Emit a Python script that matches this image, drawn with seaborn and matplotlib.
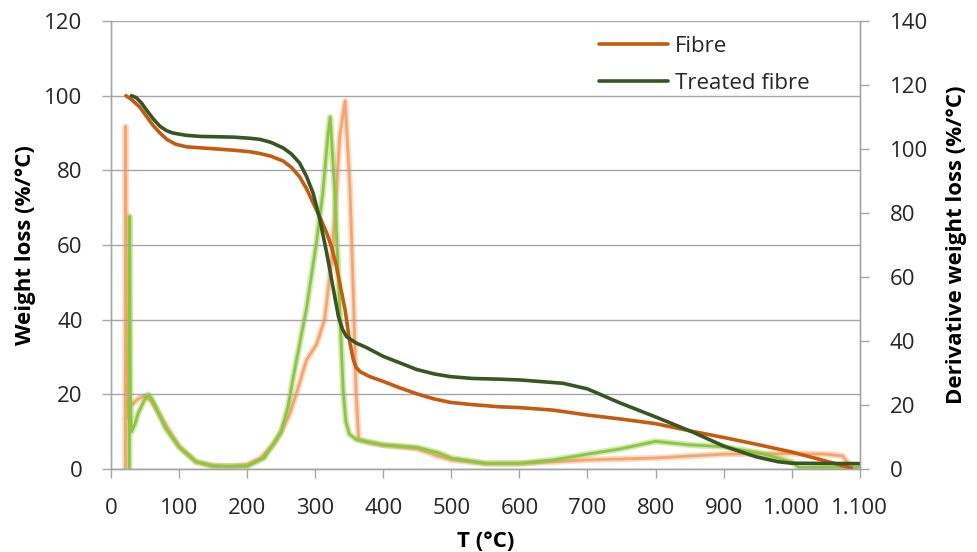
import matplotlib
matplotlib.use('Agg')
import matplotlib.pyplot as plt
from matplotlib.ticker import FuncFormatter
import seaborn as sns

# Weight loss curves (left axis)
fibre_T = [22, 30, 42, 52, 62, 72, 82, 95, 111, 150, 180, 204, 219, 235, 253, 265, 277, 287, 297,
           307, 317, 324, 331, 337, 344, 351, 356, 360, 366, 380, 400, 424, 449, 475, 498, 530,
           571, 600, 650, 700, 750, 800, 855, 900, 950, 1000, 1056, 1088]
fibre_w = [100, 99, 97, 94.5, 92, 90, 88.3, 87, 86.3, 85.8, 85.4, 85, 84.5, 83.8, 82.5, 80.8, 78.3,
           75.2, 71.3, 67.4, 63.2, 59.5, 54.5, 49, 42.6, 33.8, 29.3, 27.3, 26.1, 24.8, 23.5, 21.8,
           20.2, 18.8, 17.9, 17.3, 16.7, 16.5, 15.8, 14.5, 13.4, 12.2, 10.1, 8.5, 6.6, 4.6, 1.9, 0.3]

treated_T = [30, 37, 45, 52, 62, 72, 82, 91, 110, 131, 180, 204, 219, 235, 253, 265, 277, 287, 297,
             307, 317, 326, 334, 340, 346, 360, 375, 400, 424, 449, 475, 498, 530, 571, 600, 664,
             700, 747, 800, 855, 900, 948, 980, 1000, 1100]
treated_w = [100, 99.5, 98, 96.2, 93.8, 91.8, 90.6, 90, 89.4, 89.1, 88.9, 88.6, 88.3, 87.5, 86, 84.4,
             82, 78.5, 73.9, 66.7, 57.8, 48.9, 41, 37.5, 35.5, 33.8, 32.6, 30.2, 28.5, 26.7, 25.5,
             24.8, 24.3, 24.1, 23.9, 23, 21.5, 17.8, 14, 9.9, 6.2, 3.3, 2, 1.6, 1.5]

# Derivative curves (right axis)
fibre_dT = [21, 21.5, 22.5, 23.5, 25, 30, 40, 50, 60, 70, 80, 100, 125, 150, 175, 200, 220, 240, 250,
            262, 273, 287, 302, 314, 324, 331, 336, 344, 351, 356, 360, 364, 380, 400, 450, 480, 500,
            550, 600, 650, 700, 800, 900, 1000, 1050, 1075, 1085, 1090]
fibre_d = [0, 107, 47, 16, 20, 20, 22, 23, 21, 17.5, 14, 7, 2.3, 1.2, 0.9, 1.4, 3.5, 8, 11.7,
           17, 24, 34, 39, 47, 65, 86, 104, 115, 88, 55, 24, 9.3, 8.2, 7.5, 6.4, 4.1, 2.9,
           1.8, 1.8, 2.3, 2.9, 3.5, 4.7, 4.9, 4.7, 4.1, 1.2, 0]

treated_dT = [27, 27.5, 28.5, 30, 35, 40, 50, 55, 60, 70, 80, 100, 125, 150, 200, 225, 250, 260, 268,
              287, 302, 311, 319, 322, 329, 336, 341, 345, 350, 360, 400, 450, 480, 500, 550, 600,
              650, 700, 750, 800, 850, 900, 950, 1000, 1010, 1050, 1100]
treated_d = [0, 79, 23, 11.7, 14, 17.5, 22, 23.3, 22, 17.5, 12.8, 7, 2.3, 0.9, 0.9, 3.5, 11.7, 19.5, 29,
             50, 71, 86, 105, 110, 86, 50, 25, 15, 11, 9.3, 7.6, 6.8, 5.2, 3.5, 1.8, 1.8,
             2.9, 4.7, 6.4, 8.7, 7.6, 7, 5.2, 2.3, 0.6, 0.6, 0.6]

left_ticks = [0, 20, 40, 60, 80, 100, 120]
right_ticks = [0, 20, 40, 60, 80, 100, 120, 140]
x_ticks = list(range(0, 1101, 100))

dark_orange = '#C55A11'
dark_green = '#375623'
light_orange = '#F5A66E'
light_green = '#8CC63F'
grey = '#A6A6A6'
txt = '#262626'

sns.set_theme(style='white')
plt.rcParams['font.family'] = ['Open Sans', 'DejaVu Sans']

fig, ax = plt.subplots(figsize=(9.77, 5.52), dpi=100)
ax2 = ax.twinx()

# derivative curves: a faint wide band under a thinner line, like the noisy instrument trace
for xs, ys, col in [(fibre_dT, fibre_d, light_orange), (treated_dT, treated_d, light_green)]:
    sns.lineplot(x=xs, y=ys, ax=ax2, color=col, lw=4.5, alpha=0.4, sort=False, estimator=None)
    sns.lineplot(x=xs, y=ys, ax=ax2, color=col, lw=2, sort=False, estimator=None)

sns.lineplot(x=fibre_T, y=fibre_w, ax=ax, color=dark_orange, lw=2.6, sort=False, estimator=None, label='Fibre')
sns.lineplot(x=treated_T, y=treated_w, ax=ax, color=dark_green, lw=2.6, sort=False, estimator=None, label='Treated fibre')

# weight curves drawn over the derivative curves
ax.set_zorder(ax2.get_zorder() + 1)
ax.patch.set_visible(False)

ax.set_xlim(0, 1100)
ax.set_ylim(0, 120)
ax2.set_ylim(0, 140)
ax.set_yticks(left_ticks)
ax2.set_yticks(right_ticks)
ax.set_xticks(x_ticks)
ax.xaxis.set_major_formatter(FuncFormatter(lambda v, p: f'{int(v):,}'.replace(',', '.')))

ax.grid(axis='y', color=grey, lw=1)
ax.grid(axis='x', visible=False)
ax2.grid(False)

for a in (ax, ax2):
    for s in a.spines.values():
        s.set_color(grey)
        s.set_linewidth(1)
    a.tick_params(which='major', length=6.5, width=1, color=grey, labelsize=16, labelcolor=txt)
ax.spines['top'].set_visible(False)
ax2.spines['top'].set_visible(False)
ax.tick_params(axis='x', direction='out', bottom=True, pad=14)
ax.tick_params(axis='y', direction='out', left=True, pad=14)
ax2.tick_params(axis='y', direction='out', right=True, pad=15)

ax.set_xlabel('T (°C)', fontsize=16, fontweight='bold', color='black', labelpad=9)
ax.set_ylabel('Weight loss (%/°C)', fontsize=16, fontweight='bold', color='black', labelpad=6)
ax2.set_ylabel('Derivative weight loss (%/°C)', fontsize=16, fontweight='bold', color='black', labelpad=13)

leg = ax.legend(loc='upper left', bbox_to_anchor=(0.625, 1.012), frameon=False, fontsize=16,
                handlelength=3.1, handletextpad=0.3, labelspacing=0.72)
for h in leg.get_lines():
    h.set_linewidth(2.6)
for t in leg.get_texts():
    t.set_color(txt)

fig.subplots_adjust(left=0.1136, right=0.880, top=0.962, bottom=0.150)
fig.savefig('out.png', dpi=100)
